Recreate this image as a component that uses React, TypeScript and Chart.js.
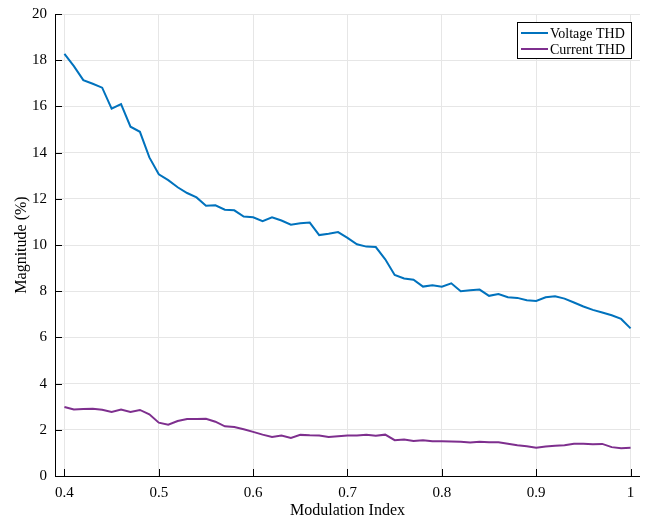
import React, { useEffect, useRef } from "react";
import { Chart, registerables } from "chart.js";

Chart.register(...registerables);

const modulationIndex: number[] = [
  0.4, 0.41, 0.42, 0.43, 0.44, 0.45, 0.46, 0.47, 0.48, 0.49,
  0.5, 0.51, 0.52, 0.53, 0.54, 0.55, 0.56, 0.57, 0.58, 0.59,
  0.6, 0.61, 0.62, 0.63, 0.64, 0.65, 0.66, 0.67, 0.68, 0.69,
  0.7, 0.71, 0.72, 0.73, 0.74, 0.75, 0.76, 0.77, 0.78, 0.79,
  0.8, 0.81, 0.82, 0.83, 0.84, 0.85, 0.86, 0.87, 0.88, 0.89,
  0.9, 0.91, 0.92, 0.93, 0.94, 0.95, 0.96, 0.97, 0.98, 0.99, 1.0,
];

const voltageTHD: number[] = [
  18.27, 17.74, 17.14, 16.98, 16.81, 15.9, 16.1, 15.12, 14.9, 13.79,
  13.06, 12.81, 12.5, 12.25, 12.06, 11.7, 11.72, 11.53, 11.5, 11.23,
  11.2, 11.03, 11.2, 11.06, 10.88, 10.94, 10.97, 10.43, 10.49, 10.56,
  10.31, 10.03, 9.93, 9.91, 9.38, 8.7, 8.55, 8.5, 8.2, 8.26,
  8.19, 8.34, 8.0, 8.04, 8.07, 7.8, 7.88, 7.74, 7.71, 7.61,
  7.58, 7.74, 7.78, 7.68, 7.51, 7.34, 7.19, 7.08, 6.96, 6.8, 6.39,
];

const currentTHD: number[] = [
  2.99, 2.88, 2.9, 2.91, 2.87, 2.77, 2.88, 2.77, 2.86, 2.67,
  2.31, 2.22, 2.38, 2.47, 2.47, 2.48, 2.35, 2.15, 2.12, 2.02,
  1.91, 1.79, 1.69, 1.75, 1.65, 1.78, 1.76, 1.75, 1.69, 1.72,
  1.75, 1.75, 1.79, 1.74, 1.79, 1.55, 1.58, 1.52, 1.55, 1.5,
  1.5, 1.49, 1.48, 1.45, 1.48, 1.46, 1.46, 1.4, 1.33, 1.29,
  1.22, 1.28, 1.31, 1.33, 1.4, 1.4, 1.37, 1.39, 1.25, 1.2, 1.22,
];

const xTicks: number[] = [0.4, 0.5, 0.6, 0.7, 0.8, 0.9, 1.0];
const yTicks: number[] = [0, 2, 4, 6, 8, 10, 12, 14, 16, 18, 20];

const seriesLabels: string[] = ["Voltage THD", "Current THD"];
const seriesColors: string[] = ["#0072BD", "#7E2F8E"];

const FONT = "'Liberation Serif', 'Times New Roman', serif";

const axesPlugin = {
  id: "matlabAxes",
  afterDraw(chart: any) {
    const ctx = chart.ctx;
    const area = chart.chartArea;
    const xs = chart.scales.x;
    const ys = chart.scales.y;
    ctx.save();
    ctx.strokeStyle = "#000";
    ctx.lineWidth = 1;
    ctx.beginPath();
    ctx.moveTo(area.left + 0.5, area.top);
    ctx.lineTo(area.left + 0.5, area.bottom + 0.5);
    ctx.lineTo(area.right, area.bottom + 0.5);
    ctx.stroke();
    const tl = 7;
    ctx.beginPath();
    for (const t of xTicks) {
      const px = Math.round(xs.getPixelForValue(t)) + 0.5;
      ctx.moveTo(px, area.bottom);
      ctx.lineTo(px, area.bottom - tl);
    }
    for (const t of yTicks) {
      const py = Math.round(ys.getPixelForValue(t)) + 0.5;
      ctx.moveTo(area.left, py);
      ctx.lineTo(area.left + tl, py);
    }
    ctx.stroke();

    const datasets = chart.data.datasets;
    const bx = 517, by = 22, bw = 114, bh = 36;
    ctx.fillStyle = "#fff";
    ctx.fillRect(bx, by, bw, bh);
    ctx.strokeStyle = "#000";
    ctx.strokeRect(bx + 0.5, by + 0.5, bw, bh);
    ctx.font = `14px ${FONT}`;
    ctx.textBaseline = "middle";
    ctx.textAlign = "left";
    datasets.forEach((ds: any, i: number) => {
      const cy = by + 11 + i * 16;
      ctx.strokeStyle = ds.borderColor;
      ctx.lineWidth = 2;
      ctx.beginPath();
      ctx.moveTo(bx + 4, cy);
      ctx.lineTo(bx + 31, cy);
      ctx.stroke();
      ctx.fillStyle = "#000";
      ctx.fillText(ds.label, bx + 33, cy + 1);
    });
    ctx.restore();
  },
};

export default function App() {
  const canvasRef = useRef<HTMLCanvasElement | null>(null);

  useEffect(() => {
    if (!canvasRef.current) return;
    const chart = new Chart(canvasRef.current, {
      type: "line",
      data: {
        datasets: [
          {
            label: seriesLabels[0],
            data: modulationIndex.map((x, i) => ({ x, y: voltageTHD[i] })),
            borderColor: seriesColors[0],
            backgroundColor: seriesColors[0],
            borderWidth: 2,
            pointRadius: 0,
            tension: 0,
          },
          {
            label: seriesLabels[1],
            data: modulationIndex.map((x, i) => ({ x, y: currentTHD[i] })),
            borderColor: seriesColors[1],
            backgroundColor: seriesColors[1],
            borderWidth: 2,
            pointRadius: 0,
            tension: 0,
          },
        ],
      },
      options: {
        responsive: false,
        animation: false,
        layout: { padding: { top: 14, right: 5, left: 0, bottom: 0 } },
        plugins: {
          legend: { display: false },
          tooltip: { enabled: false },
        },
        scales: {
          x: {
            type: "linear",
            min: 0.39,
            max: 1.01,
            afterBuildTicks: (scale: any) => {
              scale.ticks = xTicks.map((v) => ({ value: v }));
            },
            afterFit: (scale: any) => {
              scale.height = 45;
              scale.paddingLeft = 0;
              scale.paddingRight = 0;
            },
            border: { display: false },
            grid: { color: "#e6e6e6", drawTicks: false, lineWidth: 1 },
            ticks: {
              padding: 8,
              maxRotation: 0,
              color: "#000",
              font: { family: FONT, size: 15 },
              callback: (v: any) => String(Number(Number(v).toFixed(1))),
            },
            title: {
              display: true,
              text: "Modulation Index",
              color: "#000",
              font: { family: FONT, size: 16 },
              padding: { top: 0, bottom: 1 },
            },
          },
          y: {
            type: "linear",
            min: 0,
            max: 20,
            afterBuildTicks: (scale: any) => {
              scale.ticks = yTicks.map((v) => ({ value: v }));
            },
            afterFit: (scale: any) => {
              scale.width = 55;
              scale.paddingTop = 0;
              scale.paddingBottom = 0;
            },
            border: { display: false },
            grid: { color: "#e6e6e6", drawTicks: false, lineWidth: 1 },
            ticks: {
              padding: 8,
              color: "#000",
              font: { family: FONT, size: 15 },
            },
            title: {
              display: true,
              text: "Magnitude (%)",
              color: "#000",
              font: { family: FONT, size: 16 },
              padding: { top: 12, bottom: 0 },
            },
          },
        },
      },
      plugins: [axesPlugin],
    });
    return () => chart.destroy();
  }, []);

  return (
    <div style={{ position: "fixed", left: 0, top: 0, width: 645, height: 521, background: "#fff" }}>
      <canvas ref={canvasRef} width={645} height={521} style={{ display: "block" }} />
    </div>
  );
}
